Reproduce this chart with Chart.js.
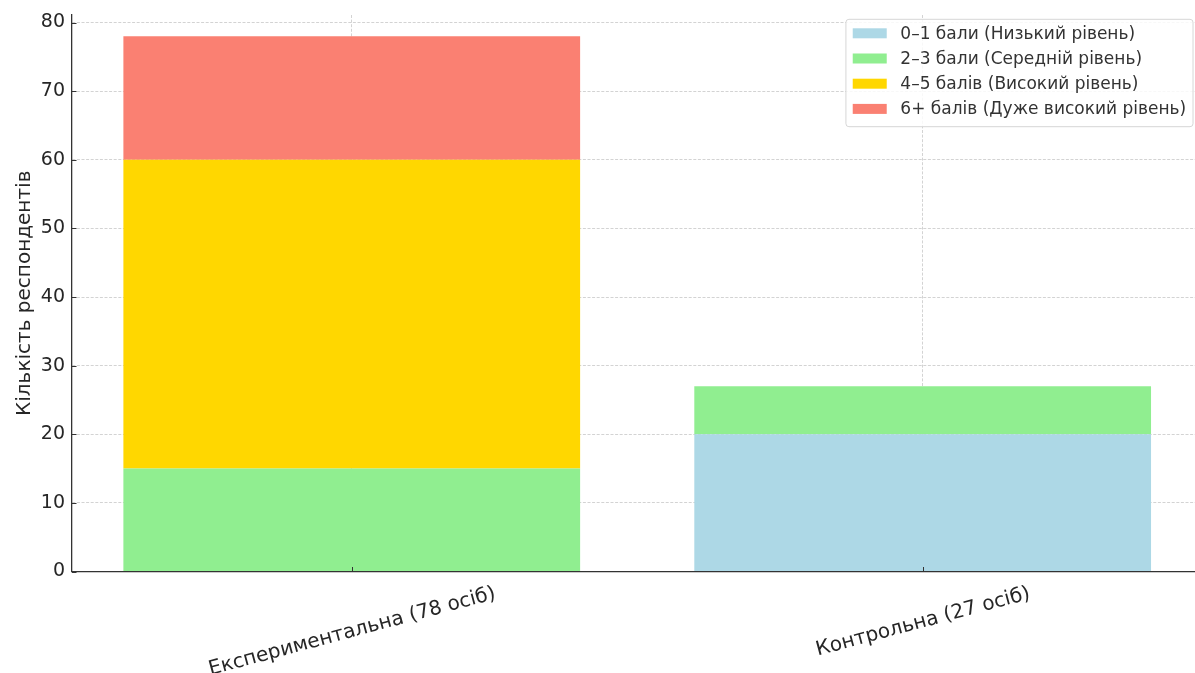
<!DOCTYPE html>
<html>
<head>
<meta charset="utf-8">
<title>Кількість респондентів за рівнями</title>
<script src="https://cdn.jsdelivr.net/npm/chart.js@4.4.1/dist/chart.umd.min.js"></script>
<style>
  html, body { margin: 0; padding: 0; background: #fff; overflow: hidden; }
  #wrap { width: 1195px; height: 673px; position: relative; }
</style>
</head>
<body>
<div id="wrap"><canvas id="chart" width="1195" height="673"></canvas></div>
<script>
// Groups on the x axis
const groups = ['Експериментальна (78 осіб)', 'Контрольна (27 осіб)'];

// Score levels (stack order, bottom to top)
const levels = [
  '0–1 бали (Низький рівень)',
  '2–3 бали (Середній рівень)',
  '4–5 балів (Високий рівень)',
  '6+ балів (Дуже високий рівень)'
];

// Respondent counts per level, one value per group
const lowCounts      = [0, 20];
const midCounts      = [15, 7];
const highCounts     = [45, 0];
const veryHighCounts = [18, 0];

const levelColors = ['#ADD8E6', '#90EE90', '#FFD700', '#FA8072'];

// Y axis ticks
const yTicks = [0, 10, 20, 30, 40, 50, 60, 70, 80];
const yTitle = 'Кількість респондентів';

const FONT = "'DejaVu Sans', 'Liberation Sans', sans-serif";
const TEXT = '#262626';
const AXIS = '#333333';
const GRID = 'rgba(176,176,176,0.7)';

const series = [lowCounts, midCounts, highCounts, veryHighCounts];

const datasets = levels.map((label, k) => ({
  label,
  data: series[k].map((v, i) => ({ x: i, y: v })),
  backgroundColor: levelColors[k],
  borderWidth: 0,
  barPercentage: 0.8,
  categoryPercentage: 1.0
}));

// Inward tick marks on both axes
const inwardTicks = {
  id: 'inwardTicks',
  afterDraw(chart) {
    const { ctx, chartArea, scales } = chart;
    ctx.save();
    ctx.strokeStyle = AXIS;
    ctx.lineWidth = 1;
    scales.y.ticks.forEach(t => {
      const py = Math.round(scales.y.getPixelForValue(t.value)) + 0.5;
      ctx.beginPath();
      ctx.moveTo(chartArea.left, py);
      ctx.lineTo(chartArea.left + 4.5, py);
      ctx.stroke();
    });
    scales.x.ticks.forEach(t => {
      const px = Math.round(scales.x.getPixelForValue(t.value)) + 0.5;
      ctx.beginPath();
      ctx.moveTo(px, chartArea.bottom);
      ctx.lineTo(px, chartArea.bottom - 4.5);
      ctx.stroke();
    });
    ctx.restore();
  }
};

// Group labels, rotated 15° and centred under each bar
const groupLabels = {
  id: 'groupLabels',
  afterDraw(chart) {
    const { ctx, chartArea, scales } = chart;
    const size = 20;
    const ang = 15 * Math.PI / 180;
    ctx.save();
    ctx.font = `${size}px ${FONT}`;
    ctx.fillStyle = TEXT;
    ctx.textAlign = 'center';
    ctx.textBaseline = 'alphabetic';
    groups.forEach((g, i) => {
      const px = scales.x.getPixelForValue(i);
      const w = ctx.measureText(g).width;
      const h = size * 1.164;
      const boxH = w * Math.sin(ang) + h * Math.cos(ang);
      const cy = chartArea.bottom + 9 + boxH / 2;
      ctx.save();
      ctx.translate(px, cy);
      ctx.rotate(-ang);
      ctx.fillText(g, 0, size * 0.346);
      ctx.restore();
    });
    ctx.restore();
  }
};

// Framed legend in the upper right corner of the plot
const boxLegend = {
  id: 'boxLegend',
  afterDraw(chart) {
    const { ctx, chartArea } = chart;
    const size = 17;
    ctx.save();
    ctx.font = `${size}px ${FONT}`;
    const pad = 6.8, handleW = 34, handleH = 10, gap = 13.6, rowH = 25.2;
    const textW = Math.max(...chart.data.datasets.map(d => ctx.measureText(d.label).width));
    const boxW = pad + handleW + gap + textW + pad;
    const boxH = 107.4;
    const right = chartArea.right - 2;
    const top = chartArea.top + 4.3;
    const left = right - boxW;
    const r = 3;
    ctx.beginPath();
    ctx.moveTo(left + r, top);
    ctx.arcTo(right, top, right, top + boxH, r);
    ctx.arcTo(right, top + boxH, left, top + boxH, r);
    ctx.arcTo(left, top + boxH, left, top, r);
    ctx.arcTo(left, top, right, top, r);
    ctx.closePath();
    ctx.fillStyle = 'rgba(255,255,255,0.85)';
    ctx.fill();
    ctx.strokeStyle = '#d6d6d6';
    ctx.lineWidth = 1;
    ctx.stroke();
    ctx.textAlign = 'left';
    ctx.textBaseline = 'middle';
    chart.data.datasets.forEach((d, k) => {
      const cy = top + 14 + k * rowH;
      ctx.fillStyle = d.backgroundColor;
      ctx.fillRect(left + pad, cy - handleH / 2, handleW, handleH);
      ctx.fillStyle = '#333';
      ctx.fillText(d.label, left + pad + handleW + gap, cy + 1);
    });
    ctx.restore();
  }
};

new Chart(document.getElementById('chart'), {
  type: 'bar',
  data: { datasets },
  plugins: [inwardTicks, groupLabels, boxLegend],
  options: {
    responsive: false,
    animation: false,
    layout: { padding: { top: 15, right: 0, bottom: 0, left: 0 } },
    plugins: {
      legend: { display: false },
      tooltip: { enabled: false }
    },
    scales: {
      x: {
        type: 'linear',
        stacked: true,
        offset: false,
        min: -0.49,
        max: 1.477,
        z: 1,
        afterBuildTicks: s => { s.ticks = groups.map((g, i) => ({ value: i })); },
        afterFit: s => { s.height = 101.5; s.paddingLeft = 0; s.paddingRight = 0; },
        ticks: { display: false },
        grid: { offset: false, drawTicks: false, color: GRID, lineWidth: 0.8 },
        border: { color: AXIS, width: 1.3, dash: [3, 1.6] }
      },
      y: {
        stacked: true,
        min: 0,
        max: 81.1,
        z: 1,
        afterBuildTicks: s => { s.ticks = yTicks.map(v => ({ value: v })); },
        afterFit: s => { s.width = 72; s.paddingTop = 0; s.paddingBottom = 0; },
        ticks: {
          padding: 7,
          color: TEXT,
          font: { family: FONT, size: 19 }
        },
        grid: { drawTicks: false, color: GRID, lineWidth: 0.8 },
        border: { color: AXIS, width: 1.3, dash: [3, 1.6] },
        title: {
          display: true,
          text: yTitle,
          color: TEXT,
          font: { family: FONT, size: 20 },
          padding: { top: 13, bottom: 0 }
        }
      }
    }
  }
});
</script>
</body>
</html>
